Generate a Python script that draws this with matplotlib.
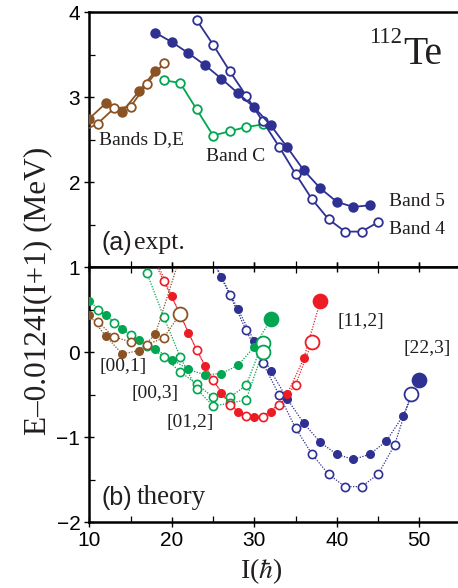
import matplotlib
matplotlib.use('Agg')
import matplotlib.pyplot as plt
from matplotlib.ticker import MultipleLocator

plt.rcParams['mathtext.fontset'] = 'stix'
SANS = 'Liberation Sans'
SERIF = 'Liberation Serif'

# ---- experimental bands, E - 0.0124 I(I+1) in MeV ----
de_fill_I = [10, 12, 14, 16, 18]
de_fill_E = [2.75, 2.93, 2.83, 3.07, 3.31]
de_open_I = [9, 11, 13, 15, 17, 19]
de_open_E = [2.59, 2.69, 2.87, 2.89, 3.16, 3.40]
bandC_I = [19, 21, 23, 25, 27, 29, 31]
bandC_E = [3.20, 3.17, 2.86, 2.55, 2.60, 2.65, 2.68]
band5_I = list(range(18, 45, 2))
band5_E = [3.76, 3.65, 3.52, 3.38, 3.22, 3.05, 2.88, 2.67, 2.41, 2.14,
           1.93, 1.77, 1.71, 1.73]
band4_I = list(range(23, 46, 2))
band4_E = [3.91, 3.62, 3.31, 3.02, 2.72, 2.42, 2.10, 1.80, 1.565, 1.42,
           1.42, 1.53]

# ---- calculated configurations ----
c001_fill_I = [10, 12, 14, 16, 18, 22]
c001_fill_E = [0.44, 0.19, -0.02, 0.02, 0.21, 1.43]
c001_open_I = [11, 13, 15, 17, 19, 21]
c001_open_E = [0.36, 0.18, 0.125, 0.09, 0.17, 0.45]
c003_fill_I = list(range(10, 33, 2))
c003_fill_E = [0.60, 0.44, 0.28, 0.15, 0.04, -0.085, -0.20, -0.265, -0.25,
               -0.155, 0.065, 0.39]
c003_open_I = list(range(11, 32, 2))
c003_open_E = [0.50, 0.35, 0.20, 0.08, -0.05, -0.23, -0.37, -0.53, -0.53,
               -0.39, 0.11]
c012_open_I = list(range(17, 32, 2))
c012_open_E = [0.93, 0.42, -0.05, -0.43, -0.63, -0.60, -0.56, 0.00]
c112_fill_I = list(range(18, 39, 2))
c112_fill_E = [1.10, 0.66, 0.23, -0.16, -0.48, -0.70, -0.765, -0.70, -0.49,
               -0.07, 0.60]
c112_open_I = list(range(17, 38, 2))
c112_open_E = [1.25, 0.84, 0.45, 0.027, -0.32, -0.62, -0.75, -0.76, -0.62,
               -0.38, 0.125]
c223_fill_I = list(range(24, 51, 2))
c223_fill_E = [1.28, 0.89, 0.51, 0.13, -0.22, -0.55, -0.835, -1.06, -1.20,
               -1.26, -1.20, -1.045, -0.75, -0.33]
c223_open_I = list(range(25, 50, 2))
c223_open_E = [1.08, 0.68, 0.26, -0.12, -0.50, -0.89, -1.20, -1.435, -1.58,
               -1.58, -1.435, -1.09, -0.49]

BLUE = '#2E3192'
GREEN = '#00A651'
RED = '#ED1C24'
BROWN = '#8B5224'
INK = '#231F20'

fig = plt.figure(figsize=(4.58, 5.88), dpi=100)
ax1 = fig.add_axes([0.195, 0.5454, 0.805, 0.4337])
ax2 = fig.add_axes([0.195, 0.1117, 0.805, 0.4337])

XMAX = 54.69


def style_axes(ax, ylo, yhi, top_ticks, bottom_labels):
    ax.set_xlim(10, XMAX)
    ax.set_ylim(ylo, yhi)
    ax.xaxis.set_major_locator(MultipleLocator(10))
    ax.xaxis.set_minor_locator(MultipleLocator(5))
    ax.yaxis.set_major_locator(MultipleLocator(1))
    ax.yaxis.set_minor_locator(MultipleLocator(0.5))
    ax.spines['right'].set_visible(False)
    for s in ('left', 'bottom', 'top'):
        ax.spines[s].set_linewidth(1.8)
    ax.tick_params(axis='both', which='major', direction='inout', length=7,
                   width=1.0, labelsize=15, top=top_ticks,
                   labelbottom=bottom_labels, pad=3)
    ax.tick_params(axis='both', which='minor', direction='in', length=4,
                   width=0.9, top=top_ticks)


style_axes(ax1, 1, 4, False, False)
style_axes(ax2, -2, 1, True, True)
ax1.set_yticks([2, 3, 4])
for ax in (ax1, ax2):
    for lab in ax.get_xticklabels() + ax.get_yticklabels():
        lab.set_family(SANS)

MS_TOP = 6.2


def expt(ax, I, E, color, filled):
    ax.plot(I, E, '-', color=color, lw=1.3, marker='o', ms=MS_TOP,
            mfc=color if filled else 'white', mec=color, mew=1.3, zorder=3)


expt(ax1, de_fill_I, de_fill_E, BROWN, True)
expt(ax1, de_open_I, de_open_E, BROWN, False)
expt(ax1, bandC_I, bandC_E, GREEN, False)
expt(ax1, band4_I, band4_E, BLUE, False)
expt(ax1, band5_I, band5_E, BLUE, True)


def theory(ax, I, E, color, filled, z=3):
    face = color if filled else 'white'
    small = 5.3 if filled else 5.9
    ax.plot(I, E, linestyle=(0, (1, 1.2)), color=color, lw=0.9, zorder=z)
    ax.plot(I[:-1], E[:-1], 'o', ls='none', ms=small, mfc=face, mec=color,
            mew=1.2, zorder=z + 0.5)
    ax.plot(I[-1:], E[-1:], 'o', ls='none', ms=10.0, mfc=face, mec=color,
            mew=1.3, zorder=z + 0.6)


theory(ax2, c223_open_I, c223_open_E, BLUE, False)
theory(ax2, c223_fill_I, c223_fill_E, BLUE, True)
theory(ax2, c003_open_I, c003_open_E, GREEN, False)
theory(ax2, c012_open_I, c012_open_E, GREEN, False)
theory(ax2, c003_fill_I, c003_fill_E, GREEN, True)
theory(ax2, c112_open_I, c112_open_E, RED, False)
theory(ax2, c112_fill_I, c112_fill_E, RED, True)
theory(ax2, c001_fill_I, c001_fill_E, BROWN, True, z=4)
theory(ax2, c001_open_I, c001_open_E, BROWN, False, z=4)

# band and nucleus labels
lab = dict(family=SERIF, color=INK, va='center', ha='left')
ax1.text(11.2, 2.50, 'Bands D,E', fontsize=14, **lab)
ax1.text(24.2, 2.30, 'Band C', fontsize=14, **lab)
ax1.text(46.3, 1.78, 'Band 5', fontsize=14, **lab)
ax1.text(46.3, 1.45, 'Band 4', fontsize=14, **lab)
ax1.text(48.0, 3.50, 'Te', fontsize=28.5, **lab)
ax1.text(47.9, 3.70, '112', fontsize=16.5, family=SERIF, color=INK,
         va='center', ha='right')
ax1.text(11.5, 1.29, '(a)', fontsize=18, family=SANS, color=INK,
         va='center', ha='left')
ax1.text(15.4, 1.29, 'expt.', fontsize=18.5, **lab)

ax2.text(11.2, -0.17, '[00,1]', fontsize=14, **lab)
ax2.text(15.1, -0.48, '[00,3]', fontsize=14, **lab)
ax2.text(19.3, -0.82, '[01,2]', fontsize=14, **lab)
ax2.text(40.1, 0.36, '[11,2]', fontsize=14, **lab)
ax2.text(48.1, 0.05, '[22,3]', fontsize=14, **lab)
ax2.text(11.5, -1.71, '(b)', fontsize=18, family=SANS, color=INK,
         va='center', ha='left')
ax2.text(15.8, -1.71, 'theory', fontsize=19.5, **lab)

fig.text(0.083, 0.505, 'E\u20130.0124I(I+1) (MeV)', rotation=90,
         family=SERIF, fontsize=22.5, color=INK, ha='center', va='center')
fig.text(0.570, 0.028, r'I($\hbar$)', family=SERIF, fontsize=20,
         color=INK, ha='center', va='center')

fig.savefig('out.png', dpi=100)
